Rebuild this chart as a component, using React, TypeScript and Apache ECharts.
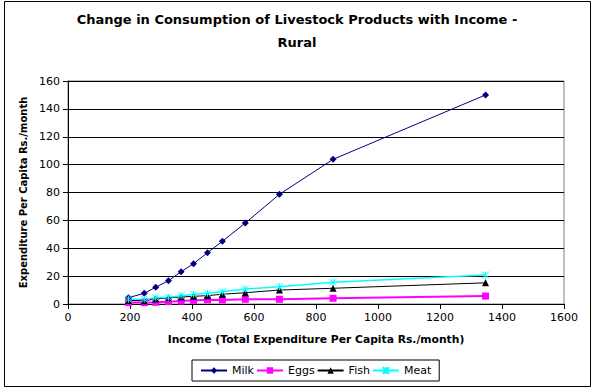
import React, { useEffect, useRef } from "react";
import * as echarts from "echarts";

const income = [195, 246, 283, 324, 365, 405, 450, 498, 572, 682, 855, 1347];
const milk = [4.5, 7.7, 12, 16.7, 23.2, 28.9, 36.8, 45, 58.1, 78.7, 103.8, 150];
const eggs = [1, 1, 1.2, 1.7, 2.1, 2.6, 3, 2.9, 3.4, 3.4, 4.1, 5.7];
const fish = [2.5, 2.4, 3.6, 4.5, 5, 5.5, 6, 7, 8.1, 10, 11.3, 15.2];
const meat = [3.5, 3.4, 4.5, 4.8, 6, 7, 7.7, 8.8, 10.8, 12.4, 15.6, 20.8];

const titleText = "Change in Consumption of Livestock Products with Income -\nRural";
const xName = "Income (Total Expenditure Per Capita Rs./month)";
const yName = "Expenditure Per Capita Rs./month";

const FONT = "'DejaVu Sans', 'Liberation Sans', Arial, sans-serif";

const pair = (ys: number[]) => income.map((x, i) => [x, ys[i]]);

export default function App() {
  const ref = useRef<HTMLDivElement>(null);
  useEffect(() => {
    document.body.style.margin = "0";
    const chart = echarts.init(ref.current!, null, { renderer: "svg" });
    const starPath = "path://M0,0L10,10M10,0L0,10M5,0L5,10";
    const mk = (name: string, data: number[], color: string, symbol: string, size: number, width: number, bw = 0) => ({
      name,
      type: "line",
      data: pair(data),
      symbol,
      symbolSize: size,
      lineStyle: { color, width },
      itemStyle: { color, borderColor: color, borderWidth: bw },
      emphasis: { disabled: true },
    });
    chart.setOption({
      animation: false,
      backgroundColor: "#fff",
      textStyle: { fontFamily: FONT },
      title: {
        text: titleText,
        left: "center",
        top: 8,
        padding: 0,
        textStyle: { fontFamily: FONT, fontSize: 13, fontWeight: "bold", color: "#000", lineHeight: 23 },
      },
      grid: {
        left: 68,
        right: 30,
        top: 81,
        bottom: 85,
        show: true,
        borderColor: "#808080",
        borderWidth: 1,
      },
      legend: {
        left: 192,
        top: 360,
        padding: [5, 8, 5, 8],
        borderColor: "#000",
        borderWidth: 1,
        itemWidth: 26,
        itemHeight: 8,
        itemGap: 2,
        textStyle: { fontFamily: FONT, fontSize: 11, color: "#000" },
        data: ["Milk", "Eggs", "Fish", "Meat"],
      },
      xAxis: {
        type: "value",
        min: 0,
        max: 1600,
        interval: 200,
        name: xName,
        nameLocation: "middle",
        nameGap: 30,
        nameTextStyle: { fontFamily: FONT, fontSize: 10.75, fontWeight: "bold", color: "#000" },
        axisLine: { show: true, lineStyle: { color: "#000", width: 1 } },
        axisTick: { show: true, inside: false, length: 5, lineStyle: { color: "#000" } },
        axisLabel: { fontFamily: FONT, fontSize: 11, color: "#000", margin: 8, formatter: (v: number) => String(v) },
        splitLine: { show: false },
      },
      yAxis: {
        type: "value",
        min: 0,
        max: 160,
        interval: 20,
        name: yName,
        nameLocation: "middle",
        nameGap: 31,
        nameTextStyle: { fontFamily: FONT, fontSize: 10, fontWeight: "bold", color: "#000" },
        axisLine: { show: true, lineStyle: { color: "#000", width: 1 } },
        axisTick: { show: true, inside: false, length: 5, lineStyle: { color: "#000" } },
        axisLabel: { fontFamily: FONT, fontSize: 11, color: "#000", margin: 8 },
        splitLine: { show: true, lineStyle: { color: "#000", width: 1 } },
      },
      graphic: [
        {
          type: "rect",
          shape: { x: 4.5, y: 1.5, width: 586, height: 385 },
          style: { fill: "none", stroke: "#000", lineWidth: 1 },
          silent: true,
        },
      ],
      series: [
        mk("Milk", milk, "#000080", "diamond", 7, 1),
        mk("Eggs", eggs, "#FF00FF", "rect", 7, 2),
        mk("Fish", fish, "#000000", "triangle", 7, 1),
        mk("Meat", meat, "#00FFFF", starPath, 7, 1.5, 1),
      ],
    });
    return () => chart.dispose();
  }, []);
  return <div ref={ref} style={{ width: 594, height: 389 }} />;
}
